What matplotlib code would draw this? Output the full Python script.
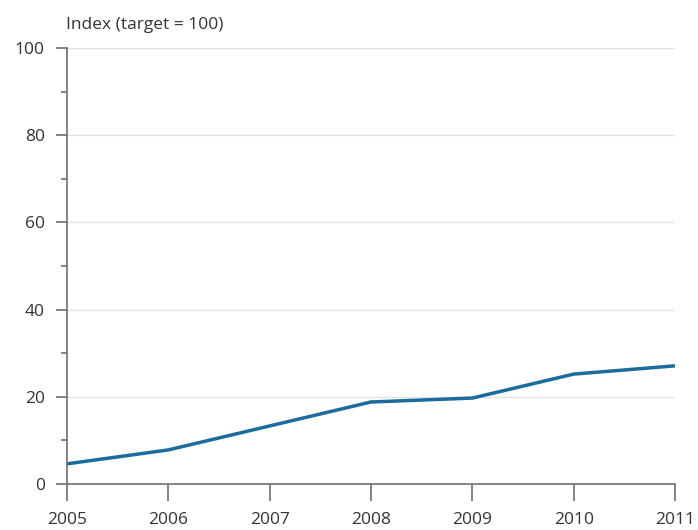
import matplotlib
matplotlib.use('Agg')
import matplotlib.pyplot as plt
from matplotlib.ticker import MultipleLocator

# Data
years = [2005, 2006, 2007, 2008, 2009, 2010, 2011]
index_values = [4.6, 7.8, 13.3, 18.8, 19.7, 25.2, 27.1]
y_ticks = [0, 20, 40, 60, 80, 100]

plt.rcParams['font.family'] = ['Open Sans', 'DejaVu Sans']

fig = plt.figure(figsize=(6.98, 5.30), dpi=100)
ax = fig.add_axes([0.096, 0.087, 0.871, 0.822])

ax.plot(years, index_values, color='#1a6b9e', linewidth=2.5, solid_capstyle='butt')

ax.set_xlim(2005, 2011)
ax.set_ylim(0, 100)
ax.set_xticks(years)
ax.set_yticks(y_ticks)
ax.yaxis.set_minor_locator(MultipleLocator(10))

ax.grid(axis='y', which='major', color='#e3e3e3', linewidth=1)
ax.set_axisbelow(True)

for side in ['top', 'right']:
    ax.spines[side].set_visible(False)
for side in ['left', 'bottom']:
    ax.spines[side].set_color('#6e6e6e')
    ax.spines[side].set_linewidth(1.2)

ax.tick_params(axis='x', which='major', length=12, width=1.2, color='#6e6e6e',
               labelsize=12.5, labelcolor='#333333', pad=8)
ax.tick_params(axis='y', which='major', length=8, width=1.2, color='#6e6e6e',
               labelsize=12.5, labelcolor='#333333', pad=8)
ax.tick_params(axis='y', which='minor', length=4, width=1.2, color='#6e6e6e')

fig.text(0.094, 0.952, 'Index (target = 100)', fontsize=12.5, color='#333333',
         ha='left', va='center')

fig.savefig('out.png', dpi=100, facecolor='white')
